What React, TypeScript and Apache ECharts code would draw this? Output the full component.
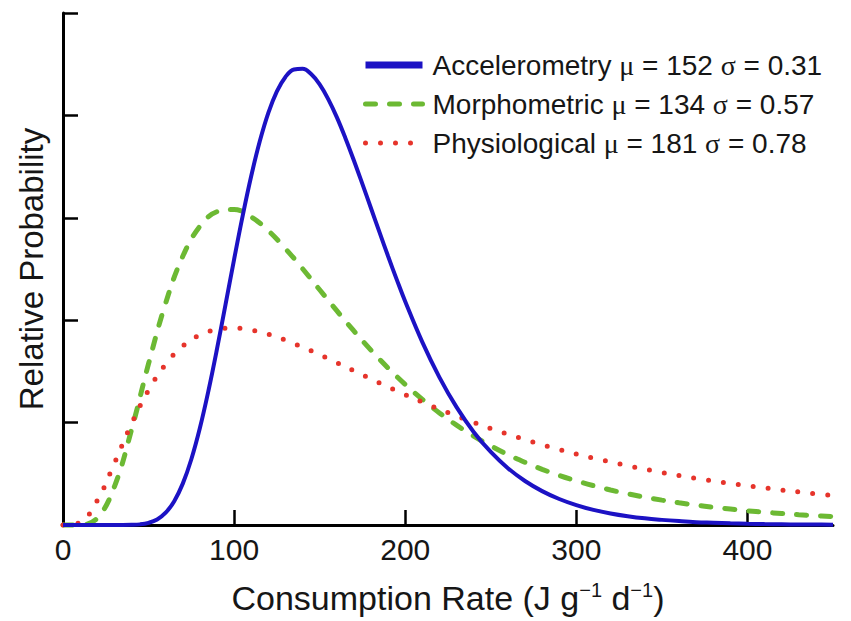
import React, { useEffect, useRef } from 'react';
import * as echarts from 'echarts';

// Accelerometry is sampled more densely where it changes fast
const accelX = [0, 10, 20, 30, 40, 45, 50, 55, 60, 65, 70, 75, 80, 85, 90, 95, 100, 105, 110, 115, 120, 125, 130, 135, 140, 145, 150, 155, 160, 165, 170, 175, 180, 185, 190, 195, 200, 210, 220, 230, 240, 250, 260, 270, 280, 290, 300, 310, 320, 330, 340, 350, 360, 370, 380, 390, 400, 410, 420, 430, 440, 450];
const accelerometry = [0, 0, 0, 0, 0.002, 0.006, 0.021, 0.054, 0.12, 0.233, 0.404, 0.642, 0.947, 1.311, 1.719, 2.155, 2.595, 3.019, 3.408, 3.747, 4.025, 4.235, 4.376, 4.448, 4.455, 4.404, 4.303, 4.159, 3.983, 3.78, 3.56, 3.329, 3.093, 2.857, 2.624, 2.399, 2.183, 1.786, 1.442, 1.151, 0.909, 0.713, 0.555, 0.43, 0.331, 0.254, 0.194, 0.148, 0.113, 0.086, 0.065, 0.05, 0.038, 0.028, 0.022, 0.016, 0.012, 0.009, 0.007, 0.005, 0.004, 0.003];

const xValues = [0, 10, 20, 30, 40, 50, 60, 70, 80, 90, 100, 110, 120, 130, 140, 150, 160, 170, 180, 190, 200, 210, 220, 230, 240, 250, 260, 270, 280, 290, 300, 310, 320, 330, 340, 350, 360, 370, 380, 390, 400, 410, 420, 430, 440, 450];

const morphometric = [0, 0.001, 0.067, 0.373, 0.927, 1.575, 2.168, 2.624, 2.917, 3.06, 3.08, 3.009, 2.874, 2.699, 2.503, 2.297, 2.093, 1.895, 1.707, 1.533, 1.373, 1.227, 1.094, 0.975, 0.868, 0.773, 0.687, 0.612, 0.544, 0.484, 0.431, 0.384, 0.342, 0.305, 0.272, 0.243, 0.217, 0.194, 0.174, 0.156, 0.139, 0.125, 0.112, 0.101, 0.091, 0.082];

const physiological = [0, 0.026, 0.238, 0.602, 0.987, 1.318, 1.571, 1.747, 1.856, 1.91, 1.923, 1.904, 1.862, 1.805, 1.737, 1.663, 1.585, 1.506, 1.426, 1.349, 1.273, 1.201, 1.131, 1.065, 1.002, 0.943, 0.887, 0.834, 0.784, 0.738, 0.694, 0.653, 0.615, 0.579, 0.545, 0.513, 0.484, 0.456, 0.43, 0.406, 0.383, 0.362, 0.342, 0.323, 0.305, 0.289];

const seriesNames = ['Accelerometry', 'Morphometric', 'Physiological'];
const muValues = ['152', '134', '181'];
const sigmaValues = ['0.31', '0.57', '0.78'];

const xTickValues = [0, 100, 200, 300, 400];

const BLUE = '#1c12c4';
const GREEN = '#6cb933';
const RED = '#e6342b';
const TEXT = '#161616';
const SANS = '"Liberation Sans", Arial, Helvetica, sans-serif';
const SERIF = '"Liberation Serif", "Times New Roman", serif';

export default function App() {
  const ref = useRef<HTMLDivElement>(null);

  useEffect(() => {
    if (!ref.current) return;
    const chart = echarts.init(ref.current, undefined, { renderer: 'svg' });
    const toPairs = (xs: number[], arr: number[]) => xs.map((x, i) => [x, arr[i]]);

    const option: any = {
      animation: false,
      backgroundColor: '#ffffff',
      grid: { left: 63, right: 18, top: 13, bottom: 96, containLabel: false },
      legend: {
        orient: 'vertical',
        left: 362,
        top: 49,
        padding: 0,
        itemGap: 7,
        itemWidth: 57,
        itemHeight: 14,
        selectedMode: false,
        itemStyle: { opacity: 0, borderWidth: 0 },
        data: [
          { name: seriesNames[0], itemStyle: { opacity: 0, borderWidth: 0 }, lineStyle: { width: 7, color: BLUE, type: 'solid' } },
          { name: seriesNames[1], itemStyle: { opacity: 0, borderWidth: 0 }, lineStyle: { width: 5, color: GREEN, type: [10, 14], cap: 'round' } },
          { name: seriesNames[2], itemStyle: { opacity: 0, borderWidth: 0 }, lineStyle: { width: 5, color: RED, type: [0, 15], cap: 'round' } },
        ],
        formatter: (name: string) => {
          const i = seriesNames.indexOf(name);
          return `${name} {g|μ} = ${muValues[i]} {g|σ} = ${sigmaValues[i]}`;
        },
        textStyle: {
          fontSize: 28,
          fontFamily: SANS,
          color: TEXT,
          lineHeight: 32,
          padding: [0, 0, 0, 5],
          rich: {
            g: { fontSize: 28, fontFamily: SERIF, color: TEXT, lineHeight: 32 },
          },
        },
      },
      xAxis: {
        type: 'value',
        min: 0,
        max: 450,
        interval: 100,
        name: 'Consumption Rate (J g{s|−1} d{s|−1})',
        nameLocation: 'middle',
        nameGap: 55,
        nameTextStyle: {
          fontSize: 34,
          fontFamily: SANS,
          color: TEXT,
          lineHeight: 36,
          rich: {
            s: { fontSize: 20, fontFamily: SANS, color: TEXT, lineHeight: 20, verticalAlign: 'top' },
          },
        },
        axisLine: { show: true, lineStyle: { color: '#000', width: 3 } },
        axisTick: { show: true, inside: true, length: 15, customValues: xTickValues, lineStyle: { color: '#000', width: 2.5 } },
        axisLabel: { show: true, customValues: xTickValues, fontSize: 30, fontFamily: SANS, color: TEXT, margin: 9 },
        splitLine: { show: false },
      },
      yAxis: {
        type: 'value',
        min: 0,
        max: 5,
        interval: 1,
        name: 'Relative Probability',
        nameLocation: 'middle',
        nameGap: 15,
        nameRotate: 90,
        nameTextStyle: { fontSize: 33, fontFamily: SANS, color: TEXT },
        axisLine: { show: true, lineStyle: { color: '#000', width: 3 } },
        axisTick: { show: true, inside: true, length: 15, lineStyle: { color: '#000', width: 2.5 } },
        axisLabel: { show: false },
        splitLine: { show: false },
      },
      series: [
        {
          name: seriesNames[0],
          type: 'line',
          data: toPairs(accelX, accelerometry),
          smooth: 0.4,
          symbol: 'none',
          showSymbol: false,
          clip: false,
          z: 5,
          lineStyle: { color: BLUE, width: 4 },
          itemStyle: { color: BLUE },
        },
        {
          name: seriesNames[1],
          type: 'line',
          data: toPairs(xValues, morphometric),
          smooth: 0.4,
          symbol: 'none',
          showSymbol: false,
          clip: false,
          z: 3,
          lineStyle: { color: GREEN, width: 5, type: [10, 14], cap: 'round' },
          itemStyle: { color: GREEN },
        },
        {
          name: seriesNames[2],
          type: 'line',
          data: toPairs(xValues, physiological),
          smooth: 0.4,
          symbol: 'none',
          showSymbol: false,
          clip: false,
          z: 4,
          lineStyle: { color: RED, width: 5, type: [0, 15], cap: 'round' },
          itemStyle: { color: RED },
        },
      ],
    };

    chart.setOption(option);
    return () => chart.dispose();
  }, []);

  return (
    <div
      ref={ref}
      style={{ position: 'fixed', left: 0, top: 0, width: 851, height: 621, background: '#fff' }}
    />
  );
}
